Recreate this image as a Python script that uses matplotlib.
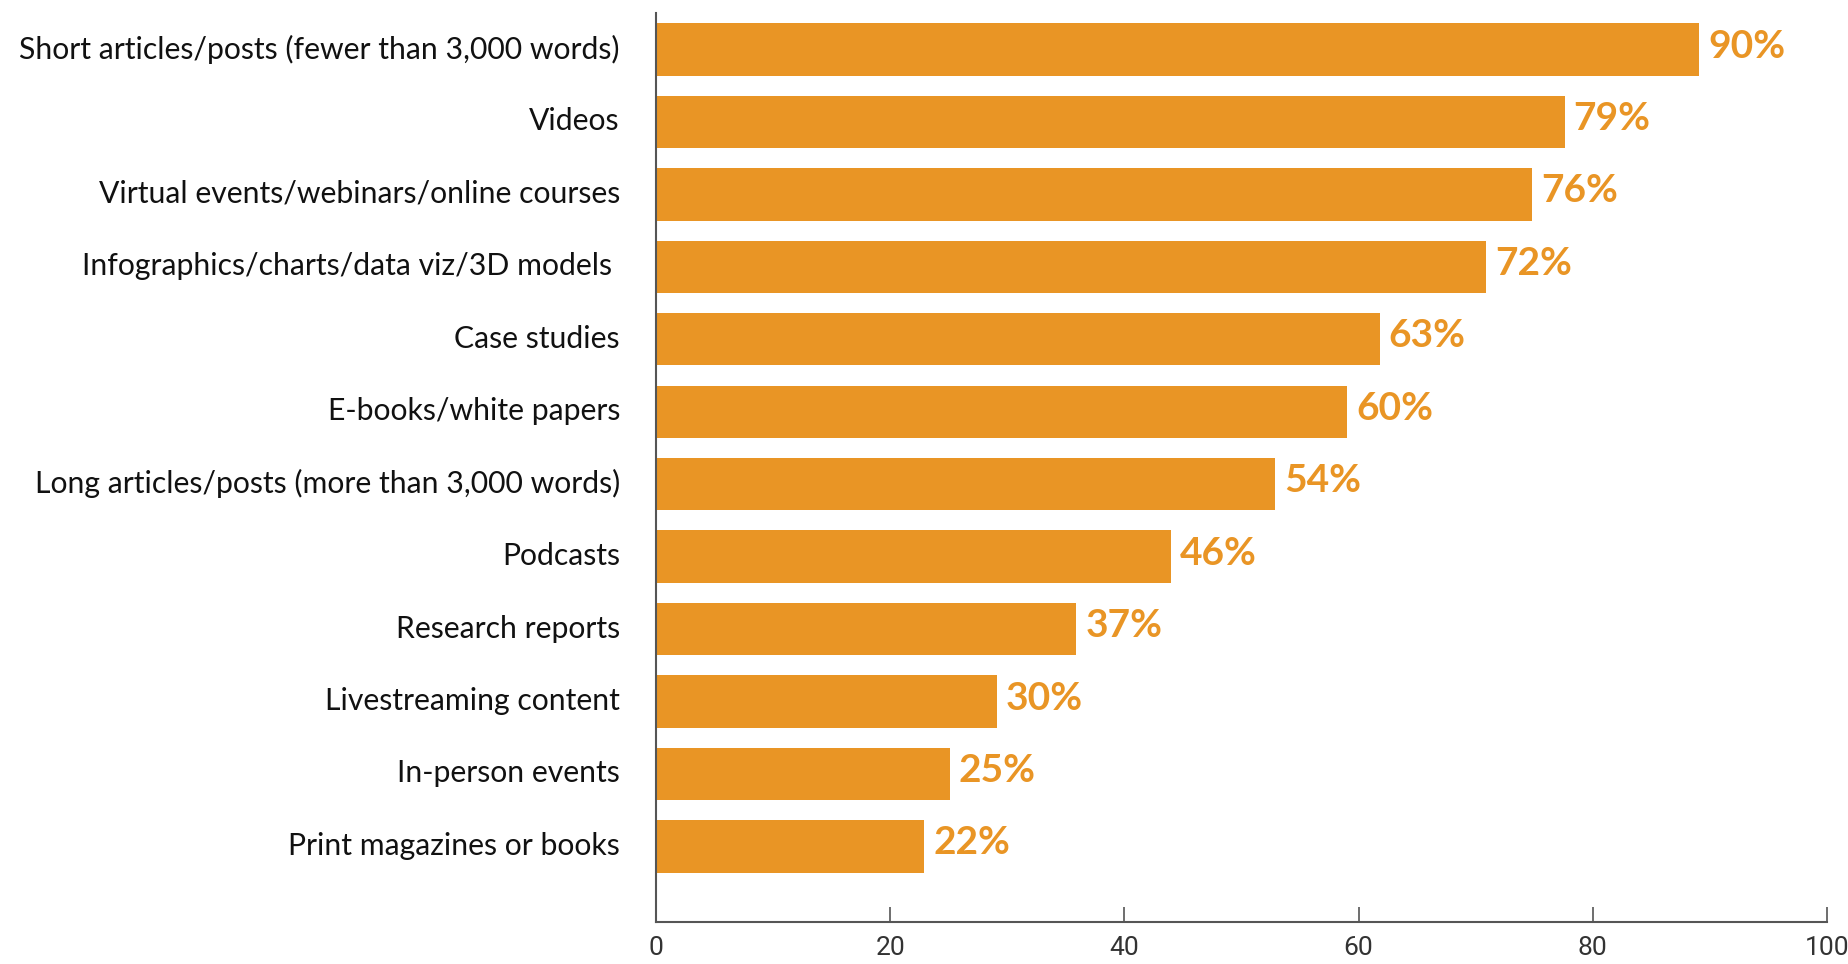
import matplotlib
matplotlib.use("Agg")
import matplotlib.pyplot as plt
from matplotlib.transforms import ScaledTranslation

categories = [
    "Short articles/posts (fewer than 3,000 words)",
    "Videos",
    "Virtual events/webinars/online courses",
    "Infographics/charts/data viz/3D models ",
    "Case studies",
    "E-books/white papers",
    "Long articles/posts (more than 3,000 words)",
    "Podcasts",
    "Research reports",
    "Livestreaming content",
    "In-person events",
    "Print magazines or books",
]
bar_values = [89.1, 77.6, 74.8, 70.9, 61.8, 59.0, 52.9, 44.0, 35.9, 29.1, 25.1, 22.9]
value_labels = ["90%", "79%", "76%", "72%", "63%", "60%", "54%", "46%", "37%", "30%", "25%", "22%"]
x_ticks = [0, 20, 40, 60, 80, 100]

ORANGE = "#E99525"
AXIS = "#555555"

fig = plt.figure(figsize=(18.48, 9.64), dpi=100)
ax = fig.add_axes([656 / 1848, 1 - 921.7 / 964, (1827 - 656) / 1848, (921.7 - 12.7) / 964])

y = list(range(len(categories)))
ax.barh(y, bar_values, height=0.723, color=ORANGE, zorder=2)

for yi, v, lab in zip(y, bar_values, value_labels):
    ax.annotate(lab, xy=(v, yi), xytext=(6.5, 2.5), textcoords="offset points",
                ha="left", va="center", color=ORANGE, fontsize=28,
                fontweight="bold", family=["Lato", "DejaVu Sans"])

ax.set_xlim(0, 100)
ax.set_ylim(12.04, -0.508)
ax.set_yticks(y)
ax.set_yticklabels(categories, fontsize=21.7, family=["Lato", "DejaVu Sans"], color="#111111")
ax.tick_params(axis="y", length=0, pad=26)
shift = ScaledTranslation(0, 3 / 100, fig.dpi_scale_trans)
for t in ax.get_yticklabels():
    t.set_transform(t.get_transform() + shift)

ax.set_xticks(x_ticks)
ax.set_xticklabels([str(t) for t in x_ticks], fontsize=19,
                   family=["Roboto", "DejaVu Sans"], fontweight="normal", color="#333333")
ax.tick_params(axis="x", direction="in", length=10.5, width=1.2, color=AXIS, pad=10)

for s in ["top", "right"]:
    ax.spines[s].set_visible(False)
for s in ["left", "bottom"]:
    ax.spines[s].set_color(AXIS)
    ax.spines[s].set_linewidth(1.5)

fig.savefig("out.png", dpi=100, facecolor="white")
